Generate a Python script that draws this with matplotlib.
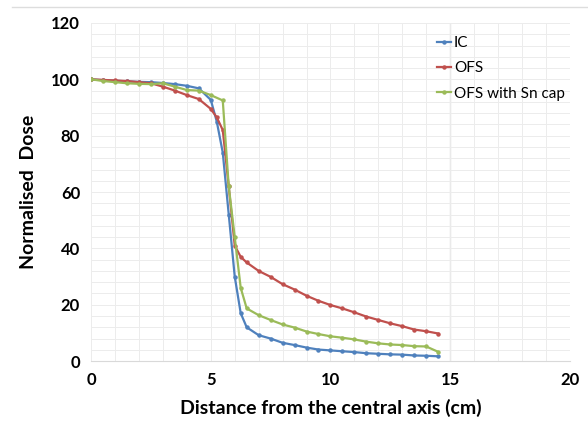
import matplotlib.pyplot as plt
from matplotlib.ticker import MultipleLocator

plt.rcParams['font.family'] = ['Lato', 'DejaVu Sans']

# values
x_ic = [0, 0.5, 1, 1.5, 2, 2.5, 3, 3.5, 4, 4.5, 5, 5.25, 5.5, 5.75, 6, 6.25, 6.5,
        7, 7.5, 8, 8.5, 9, 9.5, 10, 10.5, 11, 11.5, 12, 12.5, 13, 13.5, 14, 14.5]
ic = [100, 99.7, 99.5, 99.3, 99.1, 99.0, 98.7, 98.3, 97.7, 96.8, 92.7, 85, 74, 52, 30, 17, 12,
      9.2, 8.0, 6.5, 5.7, 4.8, 4.1, 3.8, 3.5, 3.2, 2.8, 2.6, 2.4, 2.3, 2.0, 1.9, 1.7]

x_ofs = [0, 0.5, 1, 1.5, 2, 2.5, 3, 3.5, 4, 4.5, 5, 5.25, 5.5, 5.75, 6, 6.25, 6.5,
         7, 7.5, 8, 8.5, 9, 9.5, 10, 10.5, 11, 11.5, 12, 12.5, 13, 13.5, 14, 14.5]
ofs = [100, 99.8, 99.6, 99.4, 99.0, 98.6, 97.4, 96.0, 94.4, 93.0, 89.5, 86.5, 82, 62, 41, 37, 35,
       32, 29.9, 27.3, 25.4, 23.2, 21.4, 19.9, 18.7, 17.3, 15.8, 14.6, 13.4, 12.4, 11.2, 10.6, 9.8]

x_sn = [0, 0.5, 1, 1.5, 2, 2.5, 3, 3.5, 4, 4.5, 5, 5.5, 5.75, 6, 6.25, 6.5,
        7, 7.5, 8, 8.5, 9, 9.5, 10, 10.5, 11, 11.5, 12, 12.5, 13, 13.5, 14, 14.5]
sn = [100, 99.4, 99.0, 98.6, 98.4, 98.3, 98.6, 97.4, 96.2, 96.0, 94.4, 92.5, 62, 44, 26, 18.7,
      16.3, 14.6, 13.0, 11.9, 10.5, 9.6, 8.8, 8.3, 7.7, 6.9, 6.3, 5.9, 5.7, 5.3, 5.2, 3.3]

fig = plt.figure(figsize=(5.88, 4.42), dpi=100)
ax = fig.add_axes([0.155, 0.183, 0.814, 0.765])

# thin line across the top of the image
fig.add_artist(plt.Line2D([0.02, 1.0], [0.984, 0.984], color='#dddddd', lw=1.0))

ax.plot(x_ic, ic, color='#4F81BD', marker='o', ms=2.2, lw=1.6, label='IC')
ax.plot(x_ofs, ofs, color='#C0504D', marker='o', ms=2.2, lw=1.6, label='OFS')
ax.plot(x_sn, sn, color='#9BBB59', marker='o', ms=2.2, lw=1.6, label='OFS with Sn cap')

ax.set_xlim(0, 20)
ax.set_ylim(0, 120)
ax.xaxis.set_major_locator(MultipleLocator(5))
ax.yaxis.set_major_locator(MultipleLocator(20))
ax.xaxis.set_minor_locator(MultipleLocator(1))
ax.yaxis.set_minor_locator(MultipleLocator(4))
ax.grid(which='both', color='#ececec', lw=0.7)
ax.axvline(15, color='#c8c8c8', lw=0.9, zorder=0.5)
ax.set_axisbelow(True)
for s in ['top', 'right', 'left']:
    ax.spines[s].set_visible(False)
ax.spines['bottom'].set_color('#d9d9d9')
ax.tick_params(which='both', length=0, labelsize=12, pad=8)
for lbl in ax.get_xticklabels() + ax.get_yticklabels():
    lbl.set_fontweight('bold')

ax.set_xlabel('Distance from the central axis (cm)', fontsize=14, fontweight='bold', labelpad=8)
ax.set_ylabel('Normalised  Dose', fontsize=14, fontweight='bold', labelpad=10)

ax.legend(loc='upper left', bbox_to_anchor=(0.71, 0.98), frameon=False, fontsize=11,
          handlelength=0.9, handletextpad=0.2, labelspacing=0.75, borderaxespad=0)

fig.savefig('out.png', dpi=100)
